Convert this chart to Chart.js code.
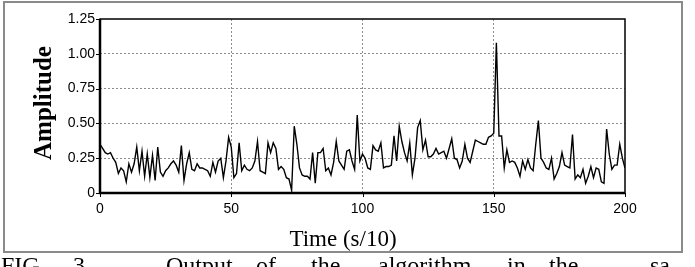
<!DOCTYPE html>
<html>
<head>
<meta charset="utf-8">
<script src="https://cdn.jsdelivr.net/npm/chart.js@4/dist/chart.umd.min.js"></script>
<style>
  body { margin: 0; background: #fff; }
  #wrap { position: relative; width: 695px; height: 267px; overflow: hidden; }
  #frame { position: absolute; left: 3px; top: 1px; width: 680px; height: 252px; box-sizing: border-box; border: 2px solid #8a8a8a; }
  canvas { position: absolute; left: 0; top: 0; }
  .ttl { position: absolute; font-family: "Liberation Serif", serif; color: #000; white-space: nowrap; }
  #ytitle { font-size: 25px; font-weight: bold; left: 43px; top: 103px; transform: translate(-50%, -50%) rotate(-90deg); }
  #xtitle { font-size: 23px; left: 343px; top: 239px; transform: translate(-50%, -50%); }
  .cap span { position: absolute; top: 252px; font-size: 24px; font-family: "Liberation Serif", serif; color: #000; }
</style>
</head>
<body>
<div id="wrap">
  <div id="frame"></div>
  <canvas id="chart" width="695" height="267"></canvas>
  <div class="ttl" id="ytitle">Amplitude</div>
  <div class="ttl" id="xtitle">Time (s/10)</div>
  <div class="cap">
    <span style="left:1px">FIG.</span>
    <span style="left:73px">3.</span>
    <span style="left:166px">Output</span>
    <span style="left:256px">of</span>
    <span style="left:311px">the</span>
    <span style="left:378px">algorithm</span>
    <span style="left:507px">in</span>
    <span style="left:549px">the</span>
    <span style="left:650px">sa</span>
  </div>
</div>
<script>
// amplitude per time step (0..200)
const amplitude = [
    0.35, 0.32, 0.29, 0.28, 0.29, 0.25, 0.22, 0.14, 0.18, 0.16,
    0.08, 0.21, 0.15, 0.21, 0.33, 0.16, 0.30, 0.12, 0.28, 0.11,
    0.27, 0.09, 0.33, 0.15, 0.12, 0.16, 0.18, 0.21, 0.23, 0.20,
    0.15, 0.34, 0.09, 0.21, 0.29, 0.17, 0.16, 0.21, 0.18, 0.18,
    0.17, 0.16, 0.12, 0.22, 0.15, 0.23, 0.25, 0.11, 0.23, 0.40,
    0.33, 0.11, 0.14, 0.36, 0.16, 0.20, 0.17, 0.16, 0.18, 0.23,
    0.37, 0.16, 0.15, 0.14, 0.36, 0.29, 0.36, 0.32, 0.17, 0.19,
    0.17, 0.11, 0.10, 0.02, 0.48, 0.35, 0.18, 0.13, 0.12, 0.12,
    0.10, 0.29, 0.07, 0.29, 0.29, 0.32, 0.16, 0.18, 0.13, 0.22,
    0.37, 0.23, 0.20, 0.17, 0.30, 0.31, 0.23, 0.17, 0.56, 0.23,
    0.28, 0.25, 0.18, 0.17, 0.34, 0.31, 0.30, 0.36, 0.18, 0.19,
    0.19, 0.20, 0.41, 0.23, 0.48, 0.37, 0.29, 0.23, 0.36, 0.13,
    0.25, 0.47, 0.52, 0.31, 0.38, 0.26, 0.26, 0.28, 0.32, 0.28,
    0.29, 0.30, 0.25, 0.32, 0.39, 0.25, 0.24, 0.18, 0.23, 0.35,
    0.25, 0.22, 0.30, 0.38, 0.37, 0.36, 0.35, 0.35, 0.40, 0.41,
    0.43, 1.08, 0.41, 0.41, 0.18, 0.31, 0.22, 0.23, 0.22, 0.18,
    0.12, 0.23, 0.17, 0.24, 0.18, 0.16, 0.35, 0.52, 0.25, 0.22,
    0.18, 0.17, 0.25, 0.10, 0.14, 0.19, 0.29, 0.20, 0.19, 0.18,
    0.42, 0.10, 0.13, 0.11, 0.17, 0.07, 0.12, 0.19, 0.11, 0.18,
    0.17, 0.08, 0.07, 0.46, 0.28, 0.17, 0.20, 0.20, 0.35, 0.25,
    0.18
];
const time = amplitude.map((v, i) => i);
const timeTicks = [0, 50, 100, 150, 200];
const ampTicks = [0, 0.25, 0.5, 0.75, 1.0, 1.25];

const tickFont = { family: "'Liberation Sans', Arial, sans-serif", size: 14 };

function gridColor(c, max) {
    var v = c.tick ? c.tick.value : 0;
    return (v > 0 && v < max) ? '#8c8c8c' : 'rgba(0,0,0,0)';
}

// plot frame + outside tick marks
const framePlugin = {
    id: 'frame',
    afterDraw: function (chart) {
        var a = chart.chartArea, ctx = chart.ctx;
        ctx.save();
        ctx.strokeStyle = '#000';
        ctx.lineWidth = 1.5;
        ctx.strokeRect(a.left, a.top, a.right - a.left, a.bottom - a.top);
        ctx.lineWidth = 2.5;
        ctx.beginPath();
        ctx.moveTo(a.left, a.top);
        ctx.lineTo(a.left, a.bottom);
        ctx.lineTo(a.right, a.bottom);
        ctx.stroke();
        ctx.lineWidth = 1;
        ctx.beginPath();
        chart.scales.x.ticks.forEach(function (t) {
            var px = Math.round(chart.scales.x.getPixelForValue(t.value)) + 0.5;
            ctx.moveTo(px, a.bottom);
            ctx.lineTo(px, a.bottom + 4);
        });
        chart.scales.y.ticks.forEach(function (t) {
            var py = Math.round(chart.scales.y.getPixelForValue(t.value)) + 0.5;
            ctx.moveTo(a.left - 4, py);
            ctx.lineTo(a.left, py);
        });
        ctx.stroke();
        ctx.restore();
    }
};

var ctx = document.getElementById('chart').getContext('2d');
var myChart = new Chart(ctx, {
    type: 'line',
    data: {
        labels: time,
        datasets: [{
            data: amplitude,
            borderColor: '#000',
            borderWidth: 1.4,
            pointRadius: 0,
            tension: 0,
            fill: false
        }]
    },
    options: {
        responsive: false,
        animation: false,
        devicePixelRatio: 1,
        layout: { padding: { left: 3, top: 19, right: 70, bottom: 14 } },
        plugins: { legend: { display: false }, tooltip: { enabled: false } },
        scales: {
            x: {
                type: 'linear',
                min: 0,
                max: 200,
                afterBuildTicks: function (s) { s.ticks = timeTicks.map(function (v) { return { value: v }; }); },
                afterFit: function (s) { s.height = 60; },
                ticks: { color: '#000', font: tickFont, padding: 8, maxRotation: 0, autoSkip: false },
                grid: { color: function (c) { return gridColor(c, 200); }, lineWidth: 1, drawTicks: false },
                border: { display: false, dash: [2, 2] }
            },
            y: {
                min: 0,
                max: 1.25,
                afterBuildTicks: function (s) { s.ticks = ampTicks.map(function (v) { return { value: v }; }); },
                afterFit: function (s) { s.width = 97; },
                ticks: {
                    color: '#000', font: tickFont, padding: 5, autoSkip: false,
                    callback: function (v) { return v === 0 ? '0' : v.toFixed(2); }
                },
                grid: { color: function (c) { return gridColor(c, 1.25); }, lineWidth: 1, drawTicks: false },
                border: { display: false, dash: [2, 2] }
            }
        }
    },
    plugins: [framePlugin]
});
</script>
</body>
</html>
